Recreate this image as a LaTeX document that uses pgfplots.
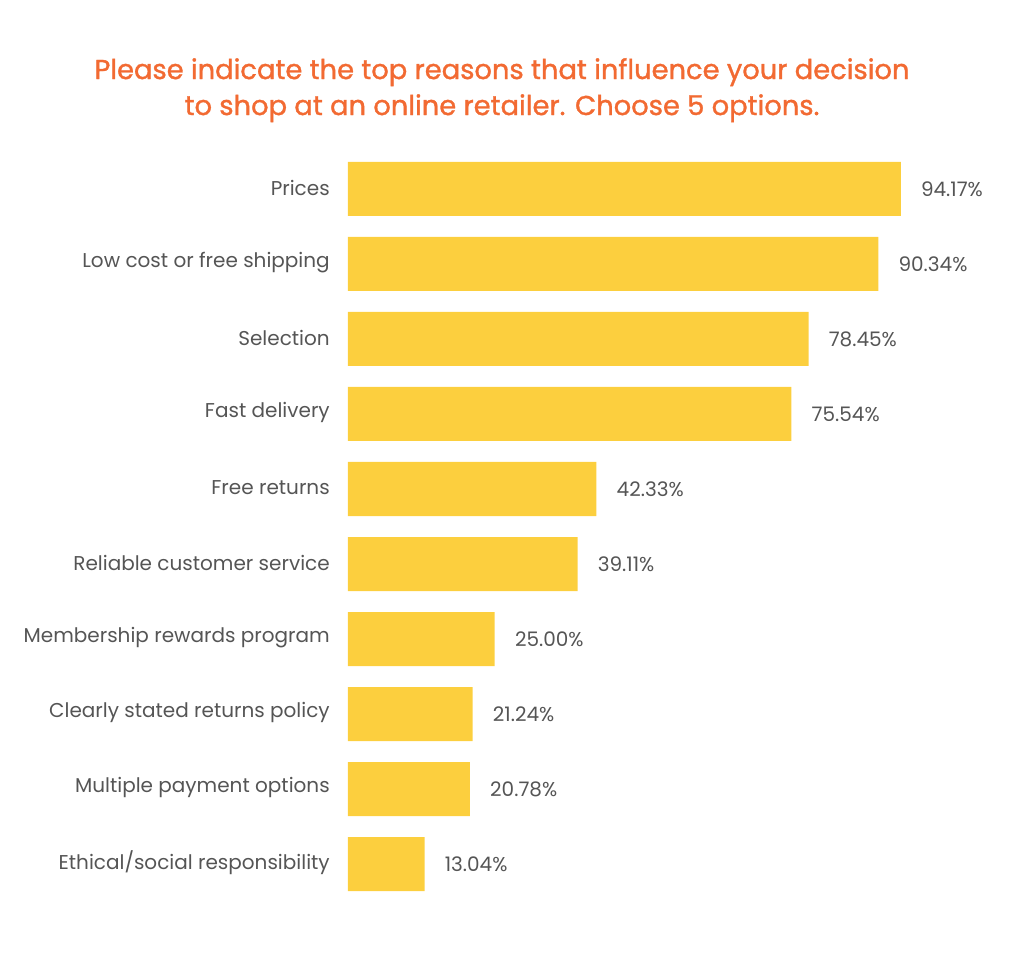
\documentclass[border=0pt]{standalone}
\usepackage{fontspec}
\setmainfont{Poppins}
\newfontfamily\titlefont[FakeBold=1.2]{Poppins}
\usepackage{pgfplots}
\pgfplotsset{compat=1.18}
\definecolor{barfill}{HTML}{FCCF3E}
\definecolor{titleorange}{HTML}{F26A32}
\definecolor{labelgray}{HTML}{555555}

\begin{document}
\begin{tikzpicture}
  \begin{axis}[
      scale only axis,
      width=440.25pt, height=562.5pt,
      xbar, bar width=40.5pt, bar shift=0pt,
      xmin=0, xmax=100,
      ymin=-0.5, ymax=9.5,
      y dir=reverse,
      axis line style={draw=none},
      xtick=\empty,
      ytick={0,...,9},
      yticklabels={Prices, Low cost or free shipping, Selection, Fast delivery, Free returns,
        Reliable customer service, Membership rewards program, Clearly stated returns policy,
        Multiple payment options, Ethical/social responsibility},
      major tick length=0pt,
      yticklabel style={font=\fontsize{15}{17}\selectfont, text=labelgray, inner sep=0pt, xshift=-13.5pt, yshift=1pt},
      nodes near coords={\pgfmathprintnumber[fixed,fixed zerofill,precision=2]{\pgfplotspointmeta}\%},
      nodes near coords style={font=\fontsize{15}{17}\selectfont, text=labelgray, anchor=west, inner sep=0pt, xshift=15pt},
      /pgf/number format/assume math mode=true,
    ]
    \addplot[fill=barfill, draw=none] coordinates {
      (94.17,0) (90.34,1) (78.45,2) (75.54,3) (42.33,4)
      (39.11,5) (25.00,6) (21.24,7) (20.78,8) (13.04,9)
    };
  \end{axis}
  \node[align=center, text=titleorange, font=\fontsize{20.5}{27}\titlefont] at (115.5pt,608.5pt)
    {Please indicate the top reasons that influence your decision\\to shop at an online retailer. Choose 5 options.};
  \path[use as bounding box] (-261pt,-43.125pt) rectangle (507pt,676.125pt);
\end{tikzpicture}
\end{document}
